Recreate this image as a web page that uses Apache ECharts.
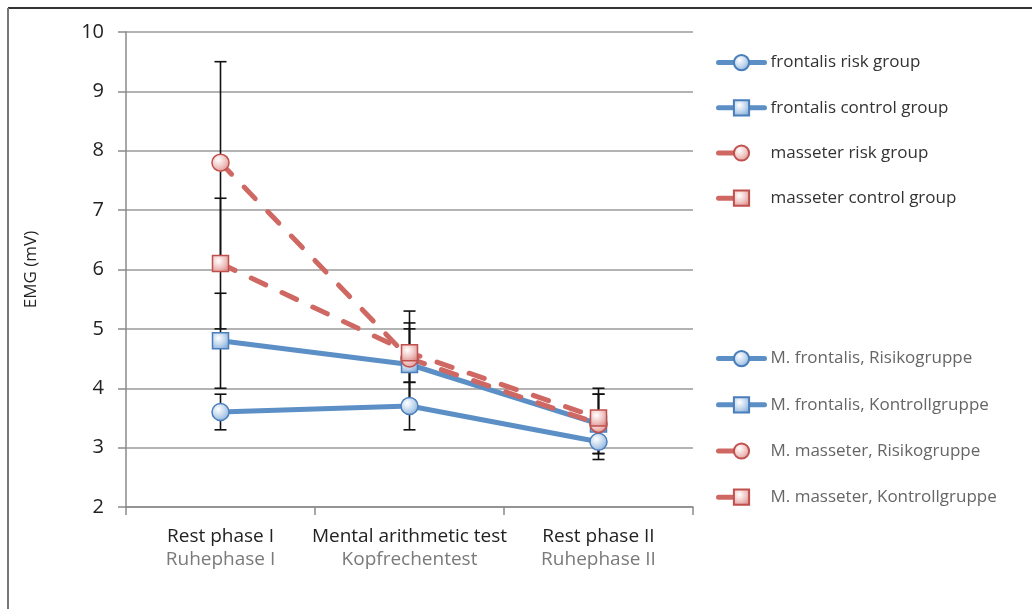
<!DOCTYPE html>
<html>
<head>
<meta charset="utf-8">
<script src="https://cdn.jsdelivr.net/npm/echarts@6/dist/echarts.min.js"></script>
<style>html,body{margin:0;padding:0;background:#fff;}#c{width:1032px;height:609px;}</style>
</head>
<body>
<div id="c"></div>
<script>
var categoriesEn = ['Rest phase I', 'Mental arithmetic test', 'Rest phase II'];
var categoriesDe = ['Ruhephase I', 'Kopfrechentest', 'Ruhephase II'];
var namesEn = ['frontalis risk group', 'frontalis control group', 'masseter risk group', 'masseter control group'];
var namesDe = ['M. frontalis, Risikogruppe', 'M. frontalis, Kontrollgruppe', 'M. masseter, Risikogruppe', 'M. masseter, Kontrollgruppe'];
var frontalisRisk = [3.6, 3.7, 3.1];
var frontalisControl = [4.8, 4.4, 3.4];
var massetereRisk = [7.8, 4.5, 3.4];
var massetereControl = [6.1, 4.6, 3.5];
var frontalisRiskErr = [0.3, 0.4, 0.3];
var frontalisControlErr = [0.8, 0.6, 0.5];
var massetereRiskErr = [1.7, 0.8, 0.5];
var massetereControlErr = [1.1, 0.5, 0.5];
var yTicks = [2, 3, 4, 5, 6, 7, 8, 9, 10];

var means = [frontalisRisk, frontalisControl, massetereRisk, massetereControl];
var errs = [frontalisRiskErr, frontalisControlErr, massetereRiskErr, massetereControlErr];

function grad(c1, c2) {
  return new echarts.graphic.RadialGradient(0.38, 0.35, 0.75, [
    {offset: 0, color: '#ffffff'}, {offset: 0.55, color: c1}, {offset: 1, color: c2}
  ]);
}
var blue = '#5b8fc6', red = '#cf6863';
var blueFill = function(){ return grad('#bcd3ec', '#7fa8d8'); };
var redFill = function(){ return grad('#efc3c1', '#d98a86'); };
var redDash = [16, 18];
var styles = [
  {color: blue, symbol: 'circle', fill: blueFill, border: '#4a7ebb', dash: 'solid'},
  {color: blue, symbol: 'rect', fill: blueFill, border: '#4a7ebb', dash: 'solid'},
  {color: red, symbol: 'circle', fill: redFill, border: '#c0504d', dash: redDash},
  {color: red, symbol: 'rect', fill: redFill, border: '#c0504d', dash: redDash}
];

var errData = [];
for (var s = 0; s < means.length; s++) {
  for (var i = 0; i < categoriesEn.length; i++) {
    errData.push([i, means[s][i] - errs[s][i], means[s][i] + errs[s][i]]);
  }
}

var series = [{
  type: 'custom',
  name: 'err',
  z: 1,
  silent: true,
  data: errData,
  encode: {x: 0, y: [1, 2]},
  renderItem: function(params, api) {
    var lo = api.coord([api.value(0), api.value(1)]);
    var hi = api.coord([api.value(0), api.value(2)]);
    var w = 6;
    var st = {stroke: '#111', lineWidth: 1.6};
    return {type: 'group', children: [
      {type: 'line', shape: {x1: lo[0], y1: lo[1], x2: hi[0], y2: hi[1]}, style: st},
      {type: 'line', shape: {x1: lo[0]-w, y1: lo[1], x2: lo[0]+w, y2: lo[1]}, style: st},
      {type: 'line', shape: {x1: hi[0]-w, y1: hi[1], x2: hi[0]+w, y2: hi[1]}, style: st}
    ]};
  }
}];

function mkLine(name, data, st) {
  return {
    type: 'line', name: name, data: data, z: 3,
    symbol: st.symbol, symbolSize: st.symbol === 'rect' ? 16 : 17,
    lineStyle: {color: st.color, width: 5, type: st.dash, cap: 'round'},
    itemStyle: {color: st.fill(), borderColor: st.border, borderWidth: 1.5},
    emphasis: {disabled: true},
    animation: false
  };
}
for (var k = 0; k < 4; k++) series.push(mkLine(namesEn[k], means[k], styles[k]));
for (var k2 = 0; k2 < 4; k2++) series.push(mkLine(namesDe[k2], [], styles[k2]));

// Legend swatch for a dashed series: only the first dash is visible before the marker.
function legendStroke(st) {
  if (st.dash === 'solid') return st.color;
  return new echarts.graphic.LinearGradient(0, 0, 1, 0, [
    {offset: 0, color: st.color}, {offset: 0.4, color: st.color},
    {offset: 0.401, color: 'rgba(255,255,255,0)'}, {offset: 1, color: 'rgba(255,255,255,0)'}
  ]);
}
function legendData(names) {
  return names.map(function(n, idx) {
    return {name: n, lineStyle: {width: 5, cap: 'round', color: legendStroke(styles[idx])}};
  });
}

var font = '"Open Sans", "Noto Sans", sans-serif';
var chart = echarts.init(document.getElementById('c'));
chart.setOption({
  animation: false,
  backgroundColor: '#fff',
  textStyle: {fontFamily: font},
  grid: {left: 126, top: 32, right: 339, bottom: 102, containLabel: false},
  xAxis: {
    type: 'category', data: categoriesEn, boundaryGap: true,
    axisLine: {lineStyle: {color: '#8a8a8a', width: 1.5}},
    axisTick: {show: true, length: 8, interval: 0, lineStyle: {color: '#8a8a8a', width: 1.5}},
    axisLabel: {
      interval: 0, margin: 18,
      formatter: function(v, idx) { return '{a|' + v + '}\n{b|' + categoriesDe[idx] + '}'; },
      rich: {
        a: {fontSize: 19, color: '#222', fontFamily: font, lineHeight: 23},
        b: {fontSize: 19, color: '#7a7a7a', fontFamily: font, lineHeight: 23}
      }
    },
    splitLine: {show: false}
  },
  yAxis: {
    type: 'value', min: yTicks[0], max: yTicks[yTicks.length-1], interval: 1,
    name: 'EMG (mV)', nameLocation: 'middle', nameGap: 86, nameRotate: 90,
    nameTextStyle: {fontSize: 17, color: '#222', fontFamily: font},
    axisLine: {show: true, lineStyle: {color: '#8a8a8a', width: 1.5}},
    axisTick: {show: true, length: 8, lineStyle: {color: '#8a8a8a', width: 1.5}},
    axisLabel: {fontSize: 20, color: '#222', margin: 22, fontFamily: font},
    splitLine: {show: true, lineStyle: {color: '#9a9a9a', width: 1.5}}
  },
  legend: [{
    orient: 'vertical', left: 711, top: 49, itemWidth: 46, itemHeight: 19, itemGap: 28,
    data: legendData(namesEn), selectedMode: false,
    textStyle: {fontSize: 17, color: '#333', fontFamily: font, padding: [0, 0, 0, 1]}
  }, {
    orient: 'vertical', left: 711, top: 345, itemWidth: 46, itemHeight: 19, itemGap: 29,
    data: legendData(namesDe), selectedMode: false,
    textStyle: {fontSize: 17, color: '#666', fontFamily: font, padding: [0, 0, 0, 1]}
  }],
  graphic: [
    {type: 'line', silent: true, shape: {x1: 8, y1: 8, x2: 1032, y2: 8}, style: {stroke: '#333', lineWidth: 2}},
    {type: 'line', silent: true, shape: {x1: 8, y1: 8, x2: 8, y2: 609}, style: {stroke: '#777', lineWidth: 2}}
  ],
  series: series
});
</script>
</body>
</html>
